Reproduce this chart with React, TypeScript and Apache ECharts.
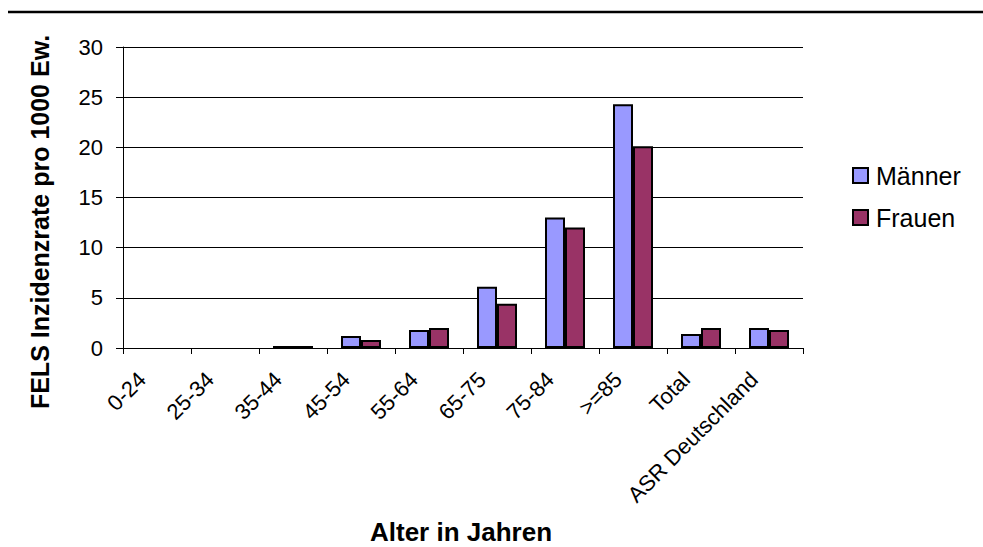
import React, { useEffect, useRef } from "react";
import * as echarts from "echarts";

const categories = ["0-24", "25-34", "35-44", "45-54", "55-64", "65-75", "75-84", ">=85", "Total", "ASR Deutschland"];
const maenner = [0, 0, 0.2, 1.2, 1.8, 6.1, 13.0, 24.3, 1.4, 2.0];
const frauen = [0, 0, 0.2, 0.8, 2.0, 4.4, 12.0, 20.1, 2.0, 1.8];
const seriesNames = ["Männer", "Frauen"];
const yTitle = "FELS Inzidenzrate pro 1000 Ew.";
const xTitle = "Alter in Jahren";

const FONT = "'Liberation Sans', Arial, sans-serif";

// zero-height bars get no outline, so empty age groups stay blank
const barData = (values: number[]) =>
  values.map((v) => (v === 0 ? { value: v, itemStyle: { borderWidth: 0 } } : v));

export default function App() {
  const ref = useRef<HTMLDivElement>(null);

  useEffect(() => {
    if (!ref.current) return;
    const chart = echarts.init(ref.current, undefined, { renderer: "svg" });
    chart.setOption({
      animation: false,
      backgroundColor: "#ffffff",
      textStyle: { fontFamily: FONT, color: "#000" },
      grid: { left: 123, top: 47, width: 680, height: 301, containLabel: false },
      legend: {
        orient: "vertical",
        left: 847,
        top: 158,
        itemWidth: 15,
        itemHeight: 15,
        itemGap: 17,
        icon: "rect",
        textStyle: { fontFamily: FONT, fontSize: 25, color: "#000", padding: [0, 0, 0, 3] },
        data: seriesNames,
      },
      xAxis: {
        type: "category",
        data: categories,
        axisLine: { lineStyle: { color: "#000", width: 1 } },
        axisTick: { show: true, length: 6, alignWithLabel: false, lineStyle: { color: "#000" } },
        axisLabel: {
          rotate: 45,
          interval: 0,
          margin: 13,
          padding: [0, 21, 0, 0],
          fontFamily: FONT,
          fontSize: 22,
          color: "#000",
        },
      },
      yAxis: {
        type: "value",
        min: 0,
        max: 30,
        interval: 5,
        axisLine: { show: true, lineStyle: { color: "#000", width: 1 } },
        axisTick: { show: true, length: 7, lineStyle: { color: "#000" } },
        splitLine: { lineStyle: { color: "#000", width: 1 } },
        axisLabel: { fontFamily: FONT, fontSize: 22, color: "#000", margin: 20 },
      },
      series: [
        {
          name: seriesNames[0],
          type: "bar",
          data: barData(maenner),
          barWidth: 20,
          barGap: "0%",
          itemStyle: { color: "#9999FF", borderColor: "#000", borderWidth: 2 },
        },
        {
          name: seriesNames[1],
          type: "bar",
          data: barData(frauen),
          barWidth: 20,
          itemStyle: { color: "#993366", borderColor: "#000", borderWidth: 2 },
        },
      ],
      graphic: [
        {
          type: "line",
          shape: { x1: 8, y1: 12, x2: 983, y2: 12 },
          style: { stroke: "#000", lineWidth: 2.5 },
        },
        {
          type: "text",
          x: 40,
          y: 222,
          rotation: Math.PI / 2,
          style: {
            text: yTitle,
            fontFamily: FONT,
            fontSize: 25,
            fontWeight: "bold",
            fill: "#000",
            align: "center",
            verticalAlign: "middle",
          },
        },
        {
          type: "text",
          x: 461,
          y: 532,
          style: {
            text: xTitle,
            fontFamily: FONT,
            fontSize: 26,
            fontWeight: "bold",
            fill: "#000",
            align: "center",
            verticalAlign: "middle",
          },
        },
      ],
    });
    return () => chart.dispose();
  }, []);

  return (
    <div
      ref={ref}
      style={{ position: "fixed", left: 0, top: 0, width: 983, height: 547 }}
    />
  );
}
